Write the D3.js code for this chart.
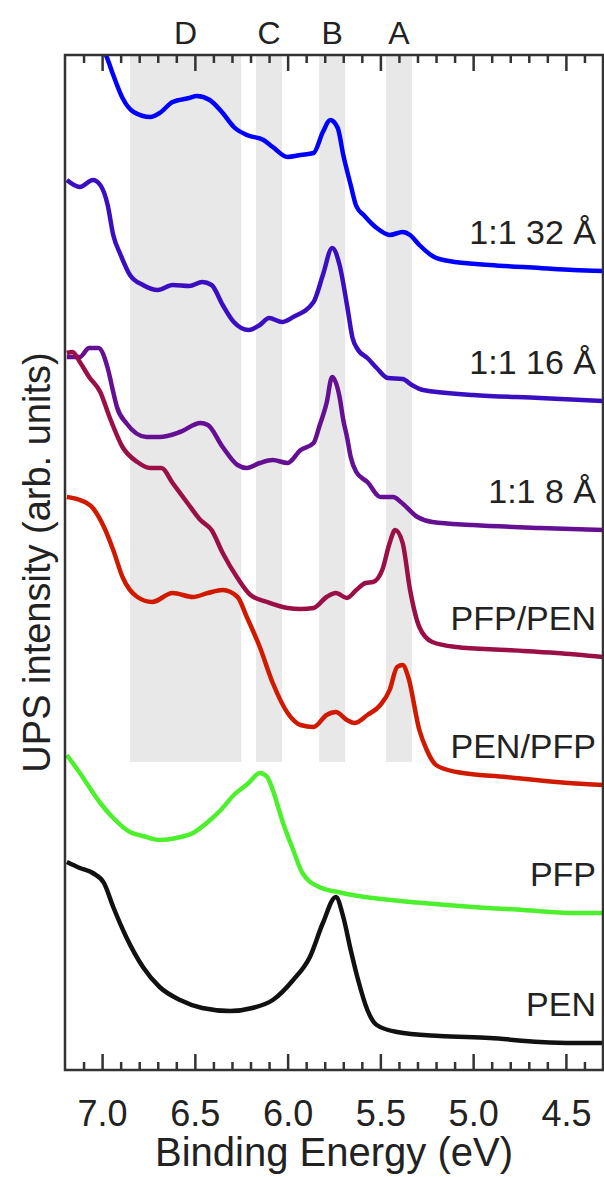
<!DOCTYPE html>
<html>
<head>
<meta charset="utf-8">
<script src="https://cdn.jsdelivr.net/npm/d3@7/dist/d3.min.js"></script>
<style>
  body { margin: 0; background: #fff; }
  svg text { font-family: "Liberation Sans", Arial, Helvetica, sans-serif; fill: #222; }
</style>
</head>
<body>
<svg id="chart" width="604" height="1177"></svg>
<script>
// binding energy (eV), intensity (arb. units)
var s32 = [[7.02,102.5],[6.98,101.5],[6.94,99.5],[6.89,97.2],[6.83,95.8],[6.74,95.3],[6.69,95.7],[6.62,96.8],[6.53,97.2],[6.49,97.4],[6.42,97.0],[6.35,95.7],[6.29,94.3],[6.22,93.5],[6.13,93.0],[6.08,92.3],[6.00,91.3],[5.93,91.5],[5.86,91.7],[5.81,93.8],[5.77,95.0],[5.73,94.2],[5.70,91.5],[5.66,88.5],[5.63,86.4],[5.59,85.5],[5.52,84.2],[5.45,83.5],[5.38,83.8],[5.34,83.5],[5.29,82.5],[5.21,81.3],[5.13,80.9],[4.91,80.5],[4.64,80.2],[4.46,80.0],[4.30,79.9]];
var s16 = [[7.19,89.0],[7.12,88.3],[7.05,89.0],[7.01,88.5],[6.97,86.5],[6.94,83.5],[6.90,81.5],[6.85,79.5],[6.78,78.5],[6.70,78.0],[6.62,78.5],[6.53,78.4],[6.46,78.8],[6.41,78.5],[6.35,76.5],[6.29,74.8],[6.21,74.0],[6.15,74.5],[6.10,75.2],[6.03,74.8],[5.97,75.3],[5.86,76.8],[5.81,79.5],[5.76,82.2],[5.72,80.5],[5.68,76.5],[5.65,73.2],[5.62,72.0],[5.57,71.2],[5.52,70.2],[5.46,69.2],[5.38,69.1],[5.33,68.5],[5.27,68.0],[5.00,67.5],[4.64,67.2],[4.30,66.9]];
var s8 = [[7.19,71.3],[7.12,71.3],[7.07,72.2],[7.02,72.2],[6.97,70.2],[6.94,67.8],[6.92,66.3],[6.87,64.7],[6.76,63.3],[6.69,63.3],[6.58,63.8],[6.47,64.7],[6.43,64.5],[6.35,62.3],[6.27,60.5],[6.22,60.2],[6.15,60.7],[6.08,61.0],[6.00,60.7],[5.93,62.0],[5.86,62.7],[5.83,64.3],[5.79,66.7],[5.76,69.3],[5.72,67.3],[5.70,65.0],[5.68,63.3],[5.66,61.3],[5.63,59.8],[5.57,58.8],[5.50,57.3],[5.43,57.3],[5.39,56.8],[5.30,55.3],[5.22,54.8],[5.00,54.5],[4.64,54.2],[4.30,54.0]];
var pfpPen = [[7.19,71.7],[7.16,71.8],[7.12,70.8],[7.07,69.3],[7.01,67.8],[6.96,65.3],[6.89,62.3],[6.81,60.8],[6.74,60.2],[6.68,60.2],[6.62,58.7],[6.54,56.7],[6.47,55.0],[6.41,54.0],[6.35,51.7],[6.27,49.2],[6.20,47.5],[6.11,46.8],[6.00,46.2],[5.93,46.1],[5.86,46.2],[5.79,47.3],[5.74,47.7],[5.68,47.2],[5.63,48.0],[5.58,48.7],[5.54,48.8],[5.49,50.0],[5.45,52.7],[5.42,54.0],[5.38,52.7],[5.34,48.0],[5.29,44.3],[5.22,42.8],[5.09,42.3],[4.82,42.0],[4.55,41.7],[4.30,41.3]];
var penPfp = [[7.19,57.3],[7.12,57.0],[7.05,56.2],[6.99,54.3],[6.94,52.0],[6.89,49.3],[6.81,47.3],[6.73,46.8],[6.62,47.7],[6.51,47.3],[6.43,47.7],[6.35,48.0],[6.27,47.3],[6.22,45.3],[6.15,42.3],[6.08,38.7],[6.00,35.7],[5.93,34.5],[5.86,34.3],[5.79,35.5],[5.74,35.8],[5.68,35.0],[5.64,34.7],[5.57,35.5],[5.50,36.5],[5.45,38.0],[5.41,40.3],[5.38,40.5],[5.35,39.3],[5.29,34.0],[5.25,32.0],[5.20,30.5],[5.09,29.8],[4.82,29.3],[4.55,28.8],[4.30,28.5]];
var pfp = [[7.19,31.5],[7.12,29.7],[7.01,26.7],[6.94,25.2],[6.85,23.8],[6.78,23.4],[6.69,23.0],[6.60,23.2],[6.51,23.7],[6.43,24.8],[6.36,26.0],[6.29,27.5],[6.21,28.7],[6.15,29.7],[6.11,29.3],[6.08,28.0],[6.03,25.0],[5.97,22.0],[5.92,19.7],[5.83,18.3],[5.73,17.8],[5.62,17.4],[5.54,17.2],[5.27,16.7],[5.00,16.3],[4.73,16.0],[4.46,15.7],[4.30,15.7]];
var pen = [[7.19,20.8],[7.12,20.2],[7.05,19.7],[6.99,18.7],[6.94,16.3],[6.87,13.3],[6.78,10.3],[6.69,8.3],[6.58,7.0],[6.46,6.2],[6.31,5.9],[6.19,6.2],[6.08,7.0],[5.97,9.0],[5.88,11.3],[5.81,14.7],[5.74,17.3],[5.70,15.3],[5.66,12.0],[5.62,9.0],[5.57,6.0],[5.52,4.5],[5.41,3.8],[5.18,3.4],[4.91,3.2],[4.64,2.8],[4.46,2.7],[4.30,2.7]];

var seriesNames = ['1:1 32 Å', '1:1 16 Å', '1:1 8 Å', 'PFP/PEN', 'PEN/PFP', 'PFP', 'PEN'];
var seriesData = [s32, s16, s8, pfpPen, penPfp, pfp, pen];
var seriesColors = ['#0000ff', '#3a0fc2', '#650f92', '#9a1046', '#d01a00', '#4cf02c', '#111111'];

var bandLabels = ['D', 'C', 'B', 'A'];
var bandFrom = [6.85, 6.17, 5.83, 5.47];
var bandTo = [6.25, 6.03, 5.69, 5.33];

var majorTicks = [7.0, 6.5, 6.0, 5.5, 5.0, 4.5];

(function() {
  var svg = d3.select('#chart');
  var m = { left: 65, right: 603, top: 55, bottom: 1070 };

  var x = d3.scaleLinear().domain([7.2, 4.3]).range([m.left, m.right]);
  var y = d3.scaleLinear().domain([0, 101.5]).range([m.bottom, m.top]);
  var bandBottom = 30.8;

  svg.append('defs').append('clipPath').attr('id', 'plotclip')
    .append('rect')
    .attr('x', m.left).attr('y', m.top)
    .attr('width', m.right - m.left).attr('height', m.bottom - m.top);

  // shaded regions
  svg.append('g').selectAll('rect')
    .data(bandLabels)
    .enter()
    .append('rect')
    .attr('x', function(d, i) { return x(bandFrom[i]); })
    .attr('width', function(d, i) { return x(bandTo[i]) - x(bandFrom[i]); })
    .attr('y', m.top)
    .attr('height', y(bandBottom) - m.top)
    .style('fill', '#e8e8e8');

  svg.append('g').selectAll('text')
    .data(bandLabels)
    .enter()
    .append('text')
    .attr('x', function(d, i) { return x((bandFrom[i] + bandTo[i]) / 2); })
    .attr('y', 44)
    .attr('text-anchor', 'middle')
    .style('font-size', '32px')
    .text(function(d) { return d; });

  // spectra
  var line = d3.line()
    .x(function(d) { return x(d[0]); })
    .y(function(d) { return y(d[1]); })
    .curve(d3.curveMonotoneX);

  svg.append('g').attr('clip-path', 'url(#plotclip)')
    .selectAll('path')
    .data(seriesData)
    .enter()
    .append('path')
    .attr('d', line)
    .style('fill', 'none')
    .style('stroke', function(d, i) { return seriesColors[i]; })
    .style('stroke-width', 4.5)
    .style('stroke-linejoin', 'round');

  svg.append('g').selectAll('text')
    .data(seriesNames)
    .enter()
    .append('text')
    .attr('x', 596)
    .attr('y', function(d, i) {
      var s = seriesData[i];
      return y(s[s.length - 1][1]) - 27;
    })
    .attr('text-anchor', 'end')
    .style('font-size', '34px')
    .text(function(d) { return d; });

  // axes, ticks pointing inward on top and bottom
  var minorTicks = d3.range(44, 72).map(function(v) { return v / 10; })
    .filter(function(v) { return majorTicks.indexOf(v) < 0; });

  function styleAxis(g) {
    g.select('.domain').remove();
    g.selectAll('.tick line').style('stroke', '#333').style('stroke-width', 2.5);
  }

  svg.append('g').attr('transform', 'translate(0,' + m.bottom + ')')
    .call(d3.axisBottom(x).tickValues(minorTicks).tickSize(-8).tickFormat(''))
    .call(styleAxis);
  svg.append('g').attr('transform', 'translate(0,' + m.bottom + ')')
    .call(d3.axisBottom(x).tickValues(majorTicks).tickSize(-16).tickPadding(30).tickFormat(d3.format('.1f')))
    .call(styleAxis)
    .selectAll('text')
    .style('font-size', '36px')
    .style('font-family', '"Liberation Sans", Arial, sans-serif')
    .style('fill', '#222');

  svg.append('g').attr('transform', 'translate(0,' + m.top + ')')
    .call(d3.axisTop(x).tickValues(minorTicks).tickSize(-8).tickFormat(''))
    .call(styleAxis);
  svg.append('g').attr('transform', 'translate(0,' + m.top + ')')
    .call(d3.axisTop(x).tickValues(majorTicks).tickSize(-16).tickFormat(''))
    .call(styleAxis);

  svg.append('rect')
    .attr('x', m.left).attr('y', m.top)
    .attr('width', m.right - m.left).attr('height', m.bottom - m.top)
    .style('fill', 'none')
    .style('stroke', '#333')
    .style('stroke-width', 2.5);

  svg.append('text')
    .attr('x', (m.left + m.right) / 2)
    .attr('y', 1166)
    .attr('text-anchor', 'middle')
    .style('font-size', '40px')
    .text('Binding Energy (eV)');

  svg.append('text')
    .attr('transform', 'translate(50,' + ((m.top + m.bottom) / 2) + ') rotate(-90)')
    .attr('text-anchor', 'middle')
    .style('font-size', '38px')
    .text('UPS intensity (arb. units)');
})();
</script>
</body>
</html>
